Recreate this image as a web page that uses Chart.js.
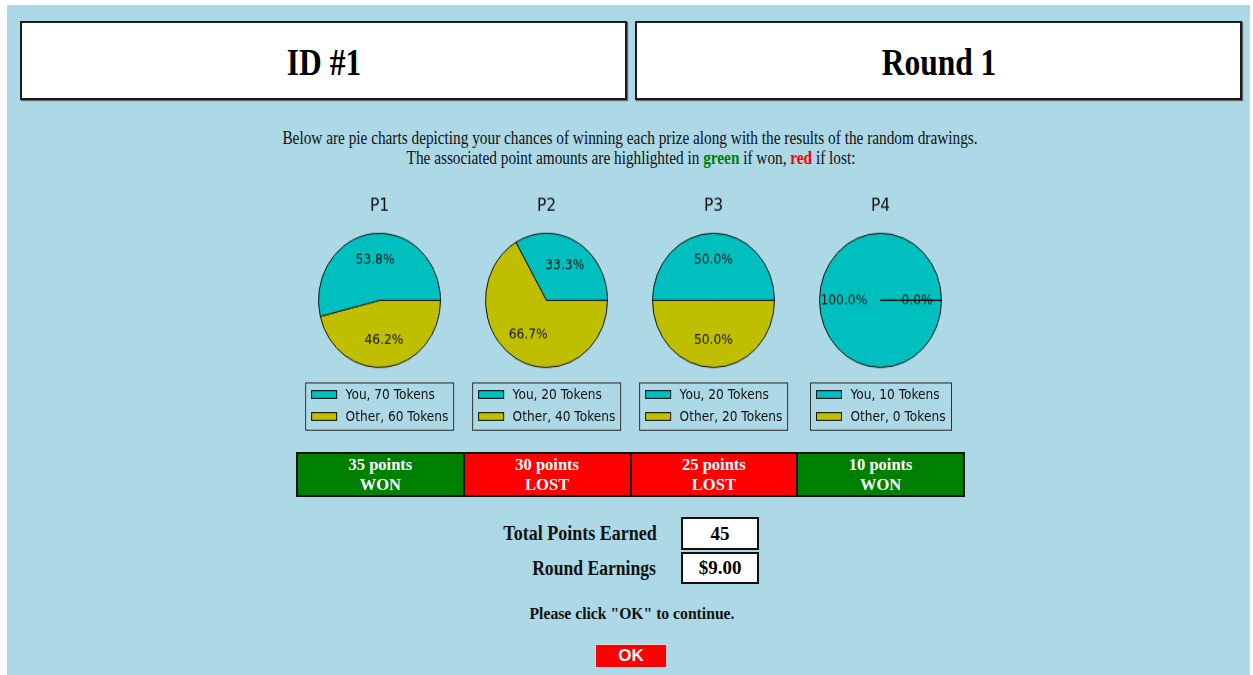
<!DOCTYPE html>
<html>
<head>
<meta charset="utf-8">
<script src="https://cdn.jsdelivr.net/npm/chart.js@4"></script>
<style>
  html, body { margin: 0; padding: 0; background: #fff; }
  body { width: 1253px; height: 675px; position: relative; overflow: hidden; font-family: "Liberation Serif", "Times New Roman", serif; }
  #bg { position: absolute; left: 7px; top: 5px; width: 1243px; height: 670px; background: #ADD8E6; }
  .hbox { position: absolute; top: 21px; width: 607px; height: 79px; box-sizing: border-box; background: #fff;
          border: 2px solid #1a1a1a; box-shadow: 1px 1px 1px #666; }
  .txt { position: absolute; white-space: nowrap; }
  #pies { position: absolute; left: 0; top: 180px; width: 1253px; height: 232px; transform: scaleY(1.1); transform-origin: 0 0; }
  .pie { position: absolute; top: 0; width: 167px; height: 180px; }
  .legend { position: absolute; top: 184px; height: 44px; box-sizing: border-box; border: 1px solid #333;
            padding: 0 5px; transform: translateX(-50%); font-family: "DejaVu Sans", sans-serif; font-size: 12.2px; color: #111; }
  .legend .row { height: 20px; line-height: 20px; white-space: nowrap; display: flex; align-items: center; }
  .legend .patch { width: 26px; height: 8px; box-sizing: border-box; border: 1px solid #111; margin-right: 9px; }
  #points { position: absolute; left: 296px; top: 452px; width: 669px; height: 45px; box-sizing: border-box;
            border: 2px solid #111; display: flex; }
  #points .cell { flex: 1; box-sizing: border-box; color: #fff; font-weight: bold; font-size: 16.5px; text-align: center;
                  line-height: 20px; padding-top: 1px; }
  #points .cell + .cell { border-left: 2px solid #111; }
  .vbox { position: absolute; left: 681px; width: 78px; box-sizing: border-box; border: 2px solid #111; background: #fff;
          font-weight: bold; font-size: 19px; text-align: center; }
  #ok { position: absolute; left: 595px; top: 644px; width: 72px; height: 24px; box-sizing: border-box; background: #ff0000;
        border: 1px solid #d8d8d8; color: #fff; font-family: "Liberation Sans", Arial, sans-serif; font-weight: bold;
        font-size: 17px; line-height: 22px; text-align: center; }
</style>
</head>
<body>
<div id="bg"></div>
<div class="hbox" style="left:20px"></div>
<div class="hbox" style="left:635px"></div>
<div id="pies"></div>
<div id="points"></div>
<div class="vbox" style="top:517px;height:33px;line-height:29px" id="totalBox"></div>
<div class="vbox" style="top:552px;height:32px;line-height:28px" id="earnBox"></div>
<div id="ok">OK</div>

<script>
// data
const prizes = ['P1', 'P2', 'P3', 'P4'];
const youTokens = [70, 20, 20, 10];
const otherTokens = [60, 40, 20, 0];
const prizePoints = [35, 30, 25, 10];
const prizeWon = [true, false, false, true];
const totalPoints = 45;
const roundEarnings = '$9.00';
const playerId = 1;
const roundNo = 1;

const CYAN = '#00BFBF';
const YELLOW = '#BFBF00';

// put a line of text centred on (cx, cy) and squeeze it to a target width
function place(html, cx, cy, w, style) {
  const el = document.createElement('div');
  el.className = 'txt';
  el.innerHTML = html;
  el.style.cssText += style || '';
  el.style.left = cx + 'px';
  el.style.top = cy + 'px';
  document.body.appendChild(el);
  const k = w ? w / el.offsetWidth : 1;
  el.style.transform = `translate(-50%, -50%) scaleX(${k})`;
  return el;
}

place(`ID #${playerId}`, 323.5, 62, 74, 'font-size:37px;font-weight:bold;');
place(`Round ${roundNo}`, 938.5, 62, 115, 'font-size:37px;font-weight:bold;');
place('Below are pie charts depicting your chances of winning each prize along with the results of the random drawings.',
  629.5, 138, 695, 'font-size:18px;color:#111;');
place('The associated point amounts are highlighted in <b style="color:#008000">green</b> if won, <b style="color:#ff0000">red</b> if lost:',
  630.5, 158, 449, 'font-size:18px;color:#111;');
place('Total Points Earned', 579.5, 533, 153, 'font-size:20px;font-weight:bold;color:#111;');
place('Round Earnings', 594, 568, 124, 'font-size:20px;font-weight:bold;color:#111;');
place('Please click "OK" to continue.', 631.5, 613, 205, 'font-size:17.5px;font-weight:bold;color:#111;');

document.getElementById('totalBox').textContent = totalPoints;
document.getElementById('earnBox').textContent = roundEarnings;

// points strip
const strip = document.getElementById('points');
prizePoints.forEach((p, i) => {
  const c = document.createElement('div');
  c.className = 'cell';
  c.style.background = prizeWon[i] ? '#008000' : '#ff0000';
  c.innerHTML = `${p} points<br>${prizeWon[i] ? 'WON' : 'LOST'}`;
  strip.appendChild(c);
});

// percentage labels at 0.6 r, like matplotlib autopct, plus the edge of an empty wedge
const pctLabels = {
  id: 'pctLabels',
  afterDatasetsDraw(chart) {
    const ctx = chart.ctx;
    const meta = chart.getDatasetMeta(0);
    const vals = chart.data.datasets[0].data;
    const sum = vals.reduce((a, b) => a + b, 0);
    ctx.save();
    meta.data.forEach((arc, j) => {
      const { x, y, startAngle, endAngle, outerRadius } = arc.getProps(['x', 'y', 'startAngle', 'endAngle', 'outerRadius'], true);
      if (endAngle === startAngle) {
        ctx.strokeStyle = '#111';
        ctx.lineWidth = 1;
        ctx.beginPath();
        ctx.moveTo(x, y);
        ctx.lineTo(x + outerRadius * Math.cos(startAngle), y + outerRadius * Math.sin(startAngle));
        ctx.stroke();
      }
      const mid = (startAngle + endAngle) / 2;
      const r = outerRadius * 0.6;
      ctx.fillStyle = '#111';
      ctx.font = '12.3px "DejaVu Sans"';
      ctx.textAlign = 'center';
      ctx.textBaseline = 'middle';
      ctx.fillText((vals[j] / sum * 100).toFixed(1) + '%', x + r * Math.cos(mid), y + r * Math.sin(mid));
    });
    ctx.restore();
  }
};

const pies = document.getElementById('pies');
prizes.forEach((name, i) => {
  const cx = 379.5 + i * 167;
  const box = document.createElement('div');
  box.className = 'pie';
  box.style.left = (cx - 83.5) + 'px';
  const cv = document.createElement('canvas');
  box.appendChild(cv);
  pies.appendChild(box);

  // matplotlib draws counter-clockwise from 3 o'clock; Chart.js goes clockwise,
  // so the slices go in reversed order starting at 3 o'clock
  new Chart(cv, {
    type: 'pie',
    data: {
      labels: [`Other, ${otherTokens[i]} Tokens`, `You, ${youTokens[i]} Tokens`],
      datasets: [{
        data: [otherTokens[i], youTokens[i]],
        backgroundColor: [YELLOW, CYAN],
        borderColor: '#111',
        borderWidth: 1,
        radius: 61
      }]
    },
    options: {
      responsive: true,
      maintainAspectRatio: false,
      animation: false,
      rotation: 90,
      layout: { padding: 0 },
      plugins: {
        legend: { display: false },
        tooltip: { enabled: false },
        title: {
          display: true,
          text: name,
          color: '#111',
          font: { family: 'DejaVu Sans', size: 15.5, weight: 'normal' },
          padding: { top: 14.5, bottom: 5.7 }
        }
      }
    },
    plugins: [pctLabels]
  });

  // legend box, matplotlib style
  const lg = document.createElement('div');
  lg.className = 'legend';
  lg.style.left = cx + 'px';
  [[CYAN, `You, ${youTokens[i]} Tokens`], [YELLOW, `Other, ${otherTokens[i]} Tokens`]].forEach(([col, txt]) => {
    const row = document.createElement('div');
    row.className = 'row';
    row.innerHTML = `<span class="patch" style="background:${col}"></span><span>${txt}</span>`;
    lg.appendChild(row);
  });
  pies.appendChild(lg);
});
</script>
</body>
</html>
